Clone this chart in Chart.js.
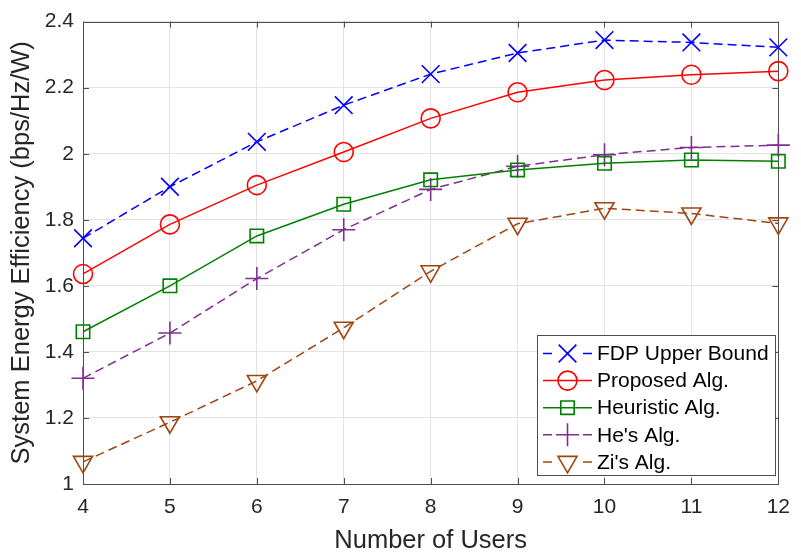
<!DOCTYPE html>
<html lang="en">
<head>
  <meta charset="UTF-8">
  <title>System Energy Efficiency vs Number of Users</title>
  <script src="https://cdn.jsdelivr.net/npm/chart.js"></script>
  <style>
    html, body { margin: 0; padding: 0; background: #fff; }
  </style>
</head>
<body>
  <canvas id="eeChart" width="801" height="552"></canvas>

  <script>
    const users = [4, 5, 6, 7, 8, 9, 10, 11, 12];
    const yTickLabels = ["1", "1.2", "1.4", "1.6", "1.8", "2", "2.2", "2.4"];

    const fdpUpper = [1.744, 1.900, 2.036, 2.147, 2.241, 2.305, 2.344, 2.337, 2.322];
    const proposed = [1.636, 1.786, 1.905, 2.005, 2.107, 2.186, 2.223, 2.239, 2.250];
    const heuristic = [1.461, 1.600, 1.751, 1.847, 1.921, 1.951, 1.971, 1.981, 1.977];
    const hesAlg = [1.320, 1.457, 1.622, 1.770, 1.892, 1.962, 1.997, 2.019, 2.026];
    const zisAlg = [1.067, 1.187, 1.312, 1.473, 1.644, 1.788, 1.835, 1.819, 1.789];

    const font = "'Liberation Sans', Arial, Helvetica, sans-serif";
    const inkColor = "#262626";

    const seriesList = [
      { label: "FDP Upper Bound", data: fdpUpper, color: "#0000ff", dash: [9, 5], style: "crossRot", r: 12.5, rot: 0 },
      { label: "Proposed Alg.", data: proposed, color: "#ff0000", dash: [], style: "circle", r: 9.5, rot: 0 },
      { label: "Heuristic Alg.", data: heuristic, color: "#008000", dash: [], style: "rect", r: 9.5, rot: 0 },
      { label: "He's Alg.", data: hesAlg, color: "#7e2f8e", dash: [9, 5], style: "cross", r: 11.5, rot: 0 },
      { label: "Zi's Alg.", data: zisAlg, color: "#a2440f", dash: [9, 5], style: "triangle", r: 11, rot: 180 }
    ];

    // MATLAB-like box with inward ticks on all four sides
    const framePlugin = {
      id: "frame",
      beforeDatasetsDraw(chart) {
        const { ctx, chartArea: a, scales } = chart;
        ctx.save();
        ctx.strokeStyle = "#4d4d4d";
        ctx.lineWidth = 1;
        const tl = 6;
        scales.x.ticks.forEach(t => {
          const px = Math.round(scales.x.getPixelForValue(t.value)) + 0.5;
          ctx.beginPath();
          ctx.moveTo(px, a.bottom); ctx.lineTo(px, a.bottom - tl);
          ctx.moveTo(px, a.top); ctx.lineTo(px, a.top + tl);
          ctx.stroke();
        });
        scales.y.ticks.forEach(t => {
          const py = Math.round(scales.y.getPixelForValue(t.value)) + 0.5;
          ctx.beginPath();
          ctx.moveTo(a.left, py); ctx.lineTo(a.left + tl, py);
          ctx.moveTo(a.right, py); ctx.lineTo(a.right - tl, py);
          ctx.stroke();
        });
        ctx.strokeRect(Math.round(a.left) + 0.5, Math.round(a.top) + 0.5,
          Math.round(a.right - a.left), Math.round(a.bottom - a.top));
        ctx.restore();
      }
    };

    function drawMarker(ctx, s, x, y) {
      ctx.save();
      ctx.strokeStyle = s.color;
      ctx.lineWidth = 1.6;
      ctx.setLineDash([]);
      ctx.beginPath();
      const r = s.r;
      if (s.style === "crossRot") {
        const o = r * Math.SQRT1_2;
        ctx.moveTo(x - o, y - o); ctx.lineTo(x + o, y + o);
        ctx.moveTo(x - o, y + o); ctx.lineTo(x + o, y - o);
      } else if (s.style === "circle") {
        ctx.arc(x, y, r, 0, Math.PI * 2);
      } else if (s.style === "rect") {
        const o = r * Math.SQRT1_2;
        ctx.rect(x - o, y - o, 2 * o, 2 * o);
      } else if (s.style === "cross") {
        ctx.moveTo(x - r, y); ctx.lineTo(x + r, y);
        ctx.moveTo(x, y - r); ctx.lineTo(x, y + r);
      } else if (s.style === "triangle") {
        ctx.moveTo(x, y + r);
        ctx.lineTo(x - r * 0.866, y - r * 0.5);
        ctx.lineTo(x + r * 0.866, y - r * 0.5);
        ctx.closePath();
      }
      ctx.stroke();
      ctx.restore();
    }

    // legend box inside the plot, lower right
    const legendPlugin = {
      id: "boxLegend",
      afterDraw(chart) {
        const { ctx } = chart;
        const box = { left: 537.5, top: 335.5, width: 238, height: 140 };
        const rowGap = 27.1;
        const firstRow = 353.5;
        ctx.save();
        ctx.fillStyle = "#fff";
        ctx.fillRect(box.left, box.top, box.width, box.height);
        ctx.strokeStyle = "#4d4d4d";
        ctx.lineWidth = 1;
        ctx.strokeRect(box.left, box.top, box.width, box.height);
        ctx.font = "21px " + font;
        ctx.textBaseline = "middle";
        ctx.textAlign = "left";
        seriesList.forEach((s, i) => {
          const y = firstRow + i * rowGap;
          ctx.strokeStyle = s.color;
          ctx.lineWidth = 1.5;
          ctx.beginPath();
          if (s.dash.length) {
            ctx.moveTo(543, y); ctx.lineTo(552, y);
            ctx.moveTo(583, y); ctx.lineTo(592, y);
          } else {
            ctx.moveTo(543, y); ctx.lineTo(592, y);
          }
          ctx.stroke();
          drawMarker(ctx, s, 567.5, y);
          ctx.fillStyle = "#000";
          ctx.fillText(s.label, 597, y + 1);
        });
        ctx.restore();
      }
    };

    const datasets = seriesList.map(s => ({
      label: s.label,
      data: s.data.map((v, i) => ({ x: users[i], y: v })),
      borderColor: s.color,
      backgroundColor: "rgba(0,0,0,0)",
      borderWidth: 1.5,
      borderDash: s.dash,
      pointStyle: s.style,
      pointRadius: s.r,
      pointRotation: s.rot,
      pointBorderWidth: 1.6,
      pointBorderColor: s.color,
      pointBackgroundColor: "rgba(0,0,0,0)",
      tension: 0,
      fill: false,
      clip: false
    }));

    new Chart(document.getElementById("eeChart").getContext("2d"), {
      type: "line",
      data: { datasets },
      options: {
        responsive: false,
        animation: false,
        events: [],
        layout: { padding: { top: 19, right: 15, left: 0, bottom: 0 } },
        plugins: { legend: { display: false }, tooltip: { enabled: false } },
        scales: {
          x: {
            type: "linear",
            min: 4,
            max: 12,
            afterFit: s => { s.height = 68; },
            ticks: {
              stepSize: 1,
              color: inkColor,
              padding: 11,
              font: { family: font, size: 21 }
            },
            grid: { color: "#e3e3e3", drawTicks: false },
            border: { display: false },
            title: {
              display: true,
              text: "Number of Users",
              color: inkColor,
              padding: 0,
              font: { family: font, size: 25.5, lineHeight: 0.9 }
            }
          },
          y: {
            type: "linear",
            min: 1,
            max: 2.4,
            afterFit: s => { s.width = 83; },
            ticks: {
              stepSize: 0.2,
              color: inkColor,
              padding: 9,
              font: { family: font, size: 21 },
              callback: (v, i) => yTickLabels[i]
            },
            grid: { color: "#e3e3e3", drawTicks: false },
            border: { display: false },
            title: {
              display: true,
              text: "System Energy Efficiency (bps/Hz/W)",
              color: inkColor,
              padding: { top: 7 },
              font: { family: font, size: 25.5 }
            }
          }
        }
      },
      plugins: [framePlugin, legendPlugin]
    });
  </script>
</body>
</html>
